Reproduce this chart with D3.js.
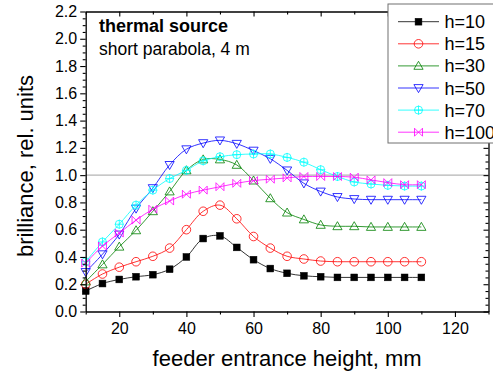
<!DOCTYPE html>
<html>
<head>
<meta charset="utf-8">
<script src="https://cdn.jsdelivr.net/npm/d3@7"></script>
<style>
  html, body { margin: 0; padding: 0; background: #fff; }
  svg { display: block; font-family: "Liberation Sans", Arial, sans-serif; }
</style>
</head>
<body>
<svg id="chart" width="493" height="372"></svg>
<script>
// ---- data ----
const heights = [10, 15, 20, 25, 30, 35, 40, 45, 50, 55, 60, 65, 70, 75, 80, 85, 90, 95, 100, 105, 110];
const h10  = [0.15, 0.205, 0.235, 0.255, 0.27, 0.31, 0.40, 0.535, 0.555, 0.47, 0.38, 0.315, 0.28, 0.262, 0.255, 0.25, 0.25, 0.25, 0.25, 0.25, 0.25];
const h15  = [0.20, 0.275, 0.325, 0.365, 0.405, 0.465, 0.60, 0.735, 0.78, 0.68, 0.55, 0.465, 0.405, 0.385, 0.37, 0.365, 0.365, 0.365, 0.365, 0.365, 0.365];
const h30  = [0.22, 0.345, 0.475, 0.595, 0.735, 0.88, 1.035, 1.115, 1.115, 1.075, 0.96, 0.83, 0.725, 0.675, 0.635, 0.625, 0.625, 0.62, 0.62, 0.62, 0.62];
const h50  = [0.29, 0.42, 0.565, 0.755, 0.905, 1.075, 1.19, 1.235, 1.255, 1.23, 1.18, 1.12, 1.035, 0.94, 0.88, 0.84, 0.825, 0.82, 0.82, 0.82, 0.82];
const h70  = [0.365, 0.51, 0.64, 0.78, 0.89, 0.975, 1.035, 1.105, 1.135, 1.15, 1.155, 1.155, 1.13, 1.095, 1.04, 0.99, 0.95, 0.935, 0.925, 0.92, 0.92];
const h100 = [0.355, 0.48, 0.575, 0.67, 0.75, 0.81, 0.86, 0.89, 0.915, 0.94, 0.96, 0.97, 0.98, 0.99, 0.99, 0.99, 0.985, 0.965, 0.945, 0.93, 0.93];
const seriesNames = ["h=10", "h=15", "h=30", "h=50", "h=70", "h=100"];
const xTicks = [20, 40, 60, 80, 100, 120];
const yTicks = [0, 0.2, 0.4, 0.6, 0.8, 1.0, 1.2, 1.4, 1.6, 1.8, 2.0, 2.2];
const xTitle = "feeder entrance height, mm";
const yTitle = "brilliance, rel. units";
const note1 = "thermal source";
const note2 = "short parabola, 4 m";

const seriesData = [h10, h15, h30, h50, h70, h100];
const colors = ["#000000", "#ff0000", "#008000", "#0000ff", "#00ffff", "#ff00ff"];
const markers = ["square", "circle", "triUp", "triDown", "circlePlus", "bowtie"];

// ---- layout ----
const svg = d3.select("#chart");
const L = 85.7, R = 488.5, T = 11.5, B = 311.5;
const x = d3.scaleLinear().domain([10, 130]).range([L, R]);
const y = d3.scaleLinear().domain([0, 2.2]).range([B, T]);
const sw = 0.8;

// reference line at 1.0
svg.append("line")
  .attr("x1", L).attr("x2", R).attr("y1", y(1)).attr("y2", y(1))
  .attr("stroke", "#b4b4b4").attr("stroke-width", 1.4);

// ---- series ----
const line = d3.line().x(d => x(d[0])).y(d => y(d[1])).curve(d3.curveCatmullRom.alpha(0.5));

function drawMarker(g, type, color) {
  if (type === "square") {
    g.append("rect").attr("x", -3.4).attr("y", -3.4).attr("width", 6.8).attr("height", 6.8)
      .attr("fill", color).attr("stroke", color).attr("stroke-width", 0.5);
  } else if (type === "circle") {
    g.append("circle").attr("r", 4.3).attr("fill", "none").attr("stroke", color).attr("stroke-width", sw);
  } else if (type === "triUp") {
    g.append("path").attr("d", "M0,-4.6L4.6,3.4L-4.6,3.4Z").attr("fill", "none").attr("stroke", color).attr("stroke-width", sw);
  } else if (type === "triDown") {
    g.append("path").attr("d", "M0,4.6L4.6,-3.4L-4.6,-3.4Z").attr("fill", "none").attr("stroke", color).attr("stroke-width", sw);
  } else if (type === "circlePlus") {
    g.append("circle").attr("r", 4).attr("fill", "none").attr("stroke", color).attr("stroke-width", sw);
    g.append("path").attr("d", "M-4.5,0H4.5M0,-4.5V4.5").attr("stroke", color).attr("stroke-width", sw);
  } else if (type === "bowtie") {
    g.append("path").attr("d", "M-4,-4L4,4L4,-4L-4,4Z").attr("fill", "none").attr("stroke", color).attr("stroke-width", sw);
  }
}

seriesData.forEach((vals, i) => {
  const pts = heights.map((h, j) => [h, vals[j]]);
  svg.append("path").datum(pts).attr("d", line)
    .attr("fill", "none").attr("stroke", colors[i]).attr("stroke-width", sw);
  pts.forEach(p => {
    const g = svg.append("g").attr("transform", `translate(${x(p[0])},${y(p[1])})`);
    drawMarker(g, markers[i], colors[i]);
  });
});

// ---- axes ----
const axisW = 1.3;
const xMinor = d3.range(10, 131, 10).filter(v => xTicks.indexOf(v) < 0);
const yMinor = d3.range(0, 2.2001, 0.05).filter(v => !yTicks.some(t => Math.abs(t - v) < 1e-6));

function styleAxis(g) {
  g.select(".domain").attr("stroke-width", axisW).attr("stroke", "#000");
  g.selectAll(".tick line").attr("stroke-width", 1.1).attr("stroke", "#000");
}

// bottom
const gxB = svg.append("g").attr("transform", `translate(0,${B})`)
  .call(d3.axisBottom(x).tickValues(xTicks).tickSize(5.5).tickSizeOuter(0).tickPadding(6).tickFormat(d3.format("d")));
gxB.selectAll("text").attr("font-size", 16).attr("font-family", "Liberation Sans, Arial, sans-serif").attr("fill", "#000");
styleAxis(gxB);
svg.append("g").attr("transform", `translate(0,${B})`)
  .call(d3.axisBottom(x).tickValues(xMinor).tickSize(3).tickFormat("")).call(g => g.select(".domain").remove())
  .call(styleAxis);

// top
const gxT = svg.append("g").attr("transform", `translate(0,${T})`)
  .call(d3.axisTop(x).tickValues(xTicks).tickSize(-5).tickSizeOuter(0).tickFormat(""));
styleAxis(gxT);
svg.append("g").attr("transform", `translate(0,${T})`)
  .call(d3.axisTop(x).tickValues(xMinor).tickSize(-3).tickFormat("")).call(g => g.select(".domain").remove())
  .call(styleAxis);

// left
const gyL = svg.append("g").attr("transform", `translate(${L},0)`)
  .call(d3.axisLeft(y).tickValues(yTicks).tickSize(5.5).tickSizeOuter(0).tickPadding(3).tickFormat(d3.format(".1f")));
gyL.selectAll("text").attr("font-size", 16).attr("font-family", "Liberation Sans, Arial, sans-serif").attr("fill", "#000");
styleAxis(gyL);
svg.append("g").attr("transform", `translate(${L},0)`)
  .call(d3.axisLeft(y).tickValues(yMinor).tickSize(3).tickFormat("")).call(g => g.select(".domain").remove())
  .call(styleAxis);

// right
const gyR = svg.append("g").attr("transform", `translate(${R},0)`)
  .call(d3.axisRight(y).tickValues(yTicks).tickSize(-5).tickSizeOuter(0).tickFormat(""));
styleAxis(gyR);
svg.append("g").attr("transform", `translate(${R},0)`)
  .call(d3.axisRight(y).tickValues(yMinor).tickSize(-3).tickFormat("")).call(g => g.select(".domain").remove())
  .call(styleAxis);

// axis titles
svg.append("text").attr("x", (L + R) / 2).attr("y", 366)
  .attr("text-anchor", "middle").attr("font-size", 22).attr("fill", "#000").text(xTitle);
svg.append("text").attr("transform", `translate(33,166) rotate(-90)`)
  .attr("text-anchor", "middle").attr("font-size", 22).attr("fill", "#000").text(yTitle);

// annotation
svg.append("text").attr("x", 99).attr("y", 32).attr("font-size", 18).attr("font-weight", "bold").attr("fill", "#000").text(note1);
svg.append("text").attr("x", 99).attr("y", 55).attr("font-size", 17.5).attr("fill", "#000").text(note2);

// ---- legend ----
const lg = svg.append("g");
lg.append("rect").attr("x", 388).attr("y", 4).attr("width", 130).attr("height", 139)
  .attr("fill", "#fff").attr("stroke", "#707070").attr("stroke-width", 1);
seriesNames.forEach((name, i) => {
  const cy = 21.7 + i * 22.1;
  lg.append("line").attr("x1", 398).attr("x2", 439).attr("y1", cy).attr("y2", cy)
    .attr("stroke", colors[i]).attr("stroke-width", sw);
  const g = lg.append("g").attr("transform", `translate(418.5,${cy})`);
  drawMarker(g, markers[i], colors[i]);
  lg.append("text").attr("x", 444.5).attr("y", cy + 6.5).attr("font-size", 18).attr("fill", "#000").text(name);
});
</script>
</body>
</html>
